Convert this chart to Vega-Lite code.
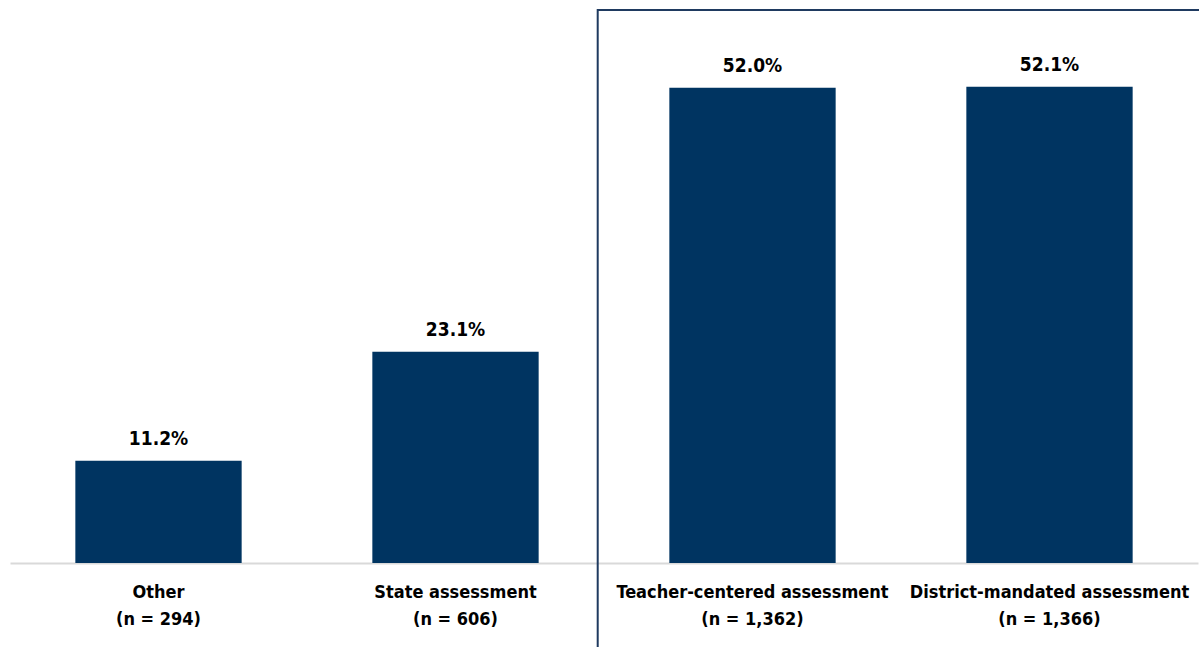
{
  "$schema": "https://vega.github.io/schema/vega-lite/v6.json",
  "autosize": {"type": "none"},
  "width": 1188,
  "height": 553,
  "padding": {"left": 10, "top": 10, "right": 1, "bottom": 84},
  "background": "white",
  "config": {"view": {"stroke": null}, "font": "Liberation Sans Narrow, DejaVu Sans Condensed, sans-serif"},
  "datasets": {
    "bars": [
      {"cat": "Other (n = 294)", "pct": 11.2, "label": "11.2%"},
      {"cat": "State assessment (n = 606)", "pct": 23.1, "label": "23.1%"},
      {"cat": "Teacher-centered assessment (n = 1,362)", "pct": 52.0, "label": "52.0%"},
      {"cat": "District-mandated assessment (n = 1,366)", "pct": 52.1, "label": "52.1%"}
    ],
    "box": [
      {"from": "State assessment (n = 606)", "to": "District-mandated assessment (n = 1,366)", "top": 60.5, "bottom": -10}
    ]
  },
  "layer": [
    {
      "data": {"name": "bars"},
      "mark": {"type": "bar", "color": "#003461"},
      "encoding": {
        "x": {
          "field": "cat", "type": "nominal", "sort": null,
          "scale": {"paddingInner": 0.44, "paddingOuter": 0.22},
          "axis": {
            "title": null, "ticks": false, "domainColor": "#d9d9d9", "domainWidth": 2,
            "labelAngle": 0, "labelFontSize": 18, "labelFontWeight": "bold", "labelColor": "#000000",
            "labelPadding": 20, "labelLineHeight": 27, "labelBaseline": "top", "labelLimit": 0,
            "labelOverlap": false,
            "labelExpr": "split(replace(datum.label, ' (n', '|(n'), '|')"
          }
        },
        "y": {
          "field": "pct", "type": "quantitative",
          "scale": {"domain": [0, 60.5], "nice": false, "zero": true},
          "axis": null
        }
      }
    },
    {
      "data": {"name": "bars"},
      "mark": {"type": "text", "baseline": "alphabetic", "dy": -16, "fontSize": 19, "fontWeight": "bold", "color": "#000000"},
      "encoding": {
        "x": {"field": "cat", "type": "nominal", "sort": null},
        "y": {"field": "pct", "type": "quantitative"},
        "text": {"field": "label", "type": "nominal"}
      }
    },
    {
      "data": {"name": "box"},
      "mark": {"type": "rect", "fill": null, "filled": false, "stroke": "#1f3a60", "strokeWidth": 2, "clip": false},
      "encoding": {
        "x": {"field": "from", "type": "nominal", "sort": null, "bandPosition": 1.355},
        "x2": {"field": "to", "bandPosition": 1.45},
        "y": {"field": "top", "type": "quantitative"},
        "y2": {"field": "bottom"}
      }
    }
  ]
}
